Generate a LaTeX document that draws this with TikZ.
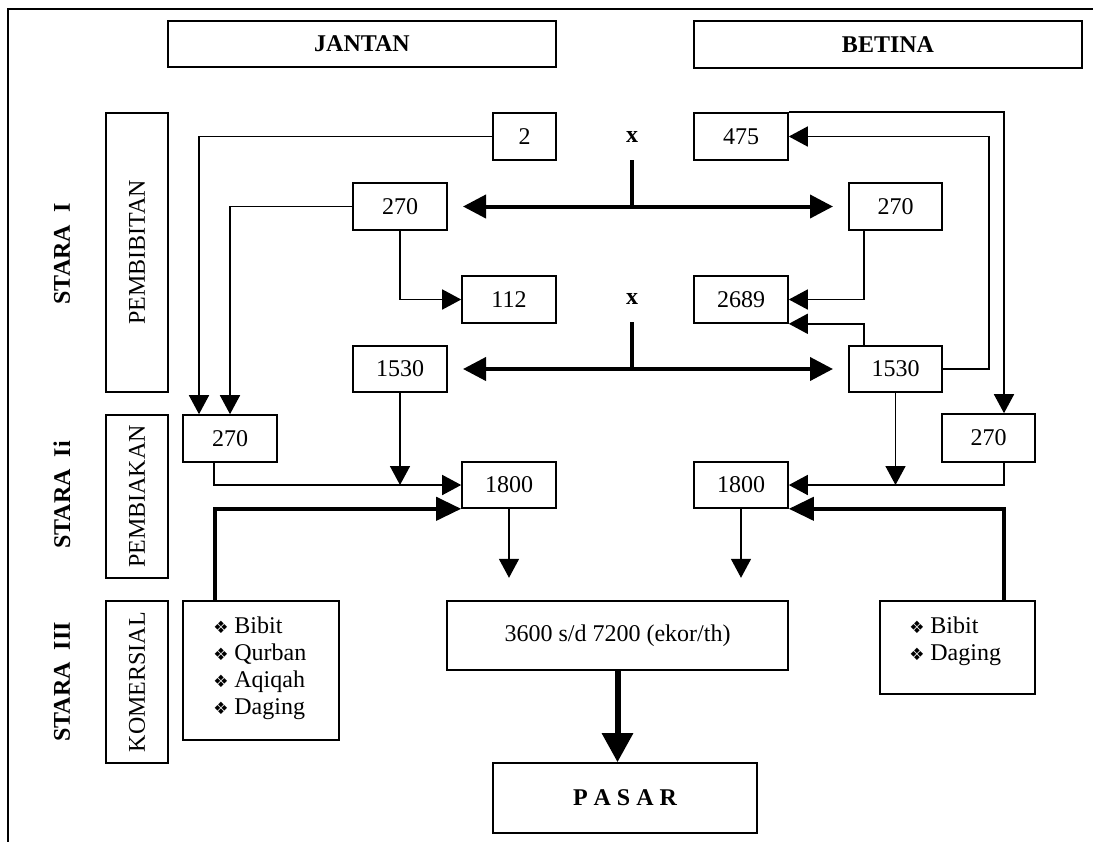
\documentclass[tikz,border=0pt]{standalone}
\usepackage{fontspec}
\usepackage{graphicx}
\setmainfont{Liberation Serif}
\newfontfamily\dejavu{DejaVu Sans}
\usetikzlibrary{arrows.meta,calc}
\newcommand{\bul}{\makebox[10.5pt][l]{\dejavu\fontsize{8.5pt}{12pt}\selectfont\char"2756}}
\begin{document}
\begin{tikzpicture}[x=0.5pt,y=-0.5pt,
  box/.style={draw,line width=0.8pt,inner sep=0pt,minimum width=47pt,minimum height=23.5pt,font=\fontsize{12pt}{14pt}\selectfont},
  boldtxt/.style={font=\bfseries\fontsize{12pt}{14pt}\selectfont},
  vtxt/.style={box,minimum width=31pt},
  thinarr/.style={line width=0.8pt,-{Triangle[length=9.5pt,width=10pt]}},
  thickarr/.style={line width=2pt,{Triangle[length=11.5pt,width=11.5pt]}-{Triangle[length=11.5pt,width=11.5pt]}},
  thickone/.style={line width=2pt,-{Triangle[length=12.5pt,width=11.5pt]}},
  stemline/.style={line width=2pt},
  bigarr/.style={line width=3pt,-{Triangle[length=14.5pt,width=15pt]}},
  listtxt/.style={anchor=north west,inner sep=0pt,font=\fontsize{12pt}{13.5pt}\selectfont}
]
\useasboundingbox (0,0) rectangle (1093,842);
% frame
\draw[line width=1.2pt] (1093,9) -- (8,9) -- (8,842);

% headers
\node[box,boldtxt,minimum width=194pt,minimum height=23pt] (jantan) at (362,44) {JANTAN};
\node[box,boldtxt,minimum width=194pt,minimum height=23.5pt] (betina) at (888,44.5) {BETINA};

% stage labels
\node[boldtxt,rotate=90] (st1) at (62,254) {STARA\ \ I};
\node[boldtxt,rotate=90] (st2) at (62,495) {STARA\ \ Ii};
\node[boldtxt,rotate=90] (st3) at (62,682) {STARA\ \ III};
\node[vtxt,minimum height=139.5pt] (pembibitan) at (137,252.5) {\rotatebox{90}{PEMBIBITAN}};
\node[vtxt,minimum height=81.5pt] (pembiakan) at (137,496.5) {\rotatebox{90}{PEMBIAKAN}};
\node[vtxt,minimum height=81pt] (komersial) at (137,682) {\rotatebox{90}{KOMERSIAL}};

% stage I boxes
\node[box,minimum width=31.5pt] (b2) at (524.5,136.5) {2};
\node[box] (b475) at (741,136.5) {475};
\node[boldtxt] (x1) at (632,137) {x};
\node[box] (b270L) at (400,206.5) {270};
\node[box,minimum width=46.5pt] (b270R) at (895.5,206.5) {270};
\node[box] (b112) at (509,299.5) {112};
\node[box] (b2689) at (741,299.5) {2689};
\node[boldtxt] (x2) at (632,299) {x};
\node[box,minimum height=23pt] (b1530L) at (400,369) {1530};
\node[box,minimum width=46.5pt,minimum height=23pt] (b1530R) at (895.5,369) {1530};

% stage II boxes
\node[box] (s270L) at (230,438.5) {270};
\node[box,minimum width=46.5pt,minimum height=24pt] (s270R) at (988.5,438) {270};
\node[box,minimum height=23pt] (s1800L) at (509,485) {1800};
\node[box,minimum height=23pt] (s1800R) at (741,485) {1800};

% stage III boxes
\node[box,minimum width=78pt,minimum height=69.5pt] (listL) at (261,670.5) {};
\node[listtxt] (listLt) at (213,614) {\begin{tabular}{@{}l@{}l@{}}\bul & Bibit\\ \bul & Qurban\\ \bul & Aqiqah\\ \bul & Daging\end{tabular}};
\node[box,minimum width=77.5pt,minimum height=46.5pt] (listR) at (957.5,647.5) {};
\node[listtxt] (listRt) at (909,614) {\begin{tabular}{@{}l@{}l@{}}\bul & Bibit\\ \bul & Daging\end{tabular}};
\node[box,minimum width=170.5pt,minimum height=34.5pt] (b3600) at (617.5,635.5) {3600 s/d 7200 (ekor/th)};
\node[box,boldtxt,minimum width=132pt,minimum height=35pt] (pasar) at (625,798) {P A S A R};

% stage I connectors
\draw[thinarr] (b2.west) -| ($(s270L.north)+(-31,0)$);
\draw[thinarr] (b270L.west) -| (s270L.north);
\draw[thinarr] (b270L.south) |- (b112.west);
\draw[thinarr] ($(b270R.south)+(-31.5,0)$) |- (b2689.east);
\draw[thinarr] ($(b1530R.north)+(-31.5,0)$) |- (b2689.south east);
\draw[thinarr] (b1530R.east) -- ++(46,0) |- (b475.east);
\draw[thinarr] (b475.north east) -| ($(s270R.north)+(15.5,0)$);

\draw[thickarr,shorten <=7.6pt,shorten >=7.6pt] (b270L.east) -- (b270R.west);
\coordinate (stem1) at (632,160);
\draw[stemline] (stem1) -- (stem1 |- b270L.east);
\draw[thickarr,shorten <=7.6pt,shorten >=7.6pt] (b1530L.east) -- (b1530R.west);
\coordinate (stem2) at (632,322);
\draw[stemline] (stem2) -- (stem2 |- b1530L.east);

% stage II connectors
\draw[thinarr] ($(s270L.south)+(-16,0)$) |- (s1800L.west);
\draw[thinarr] (b1530L.south) -- (b1530L.south |- s1800L.west);
\draw[thinarr] ($(s270R.south)+(15.5,0)$) |- (s1800R.east);
\draw[thinarr] (b1530R.south) -- (b1530R.south |- s1800R.east);
\draw[thickone] ($(listL.north)+(-46,0)$) |- (s1800L.south west);
\draw[thickone] ($(listR.north)+(46.5,0)$) |- (s1800R.south east);

\draw[thinarr] (s1800L.south) -- ++(0,69);
\draw[thinarr] (s1800R.south) -- ++(0,69);

\draw[bigarr] (b3600.south) -- (b3600.south |- pasar.north);
\end{tikzpicture}
\end{document}
